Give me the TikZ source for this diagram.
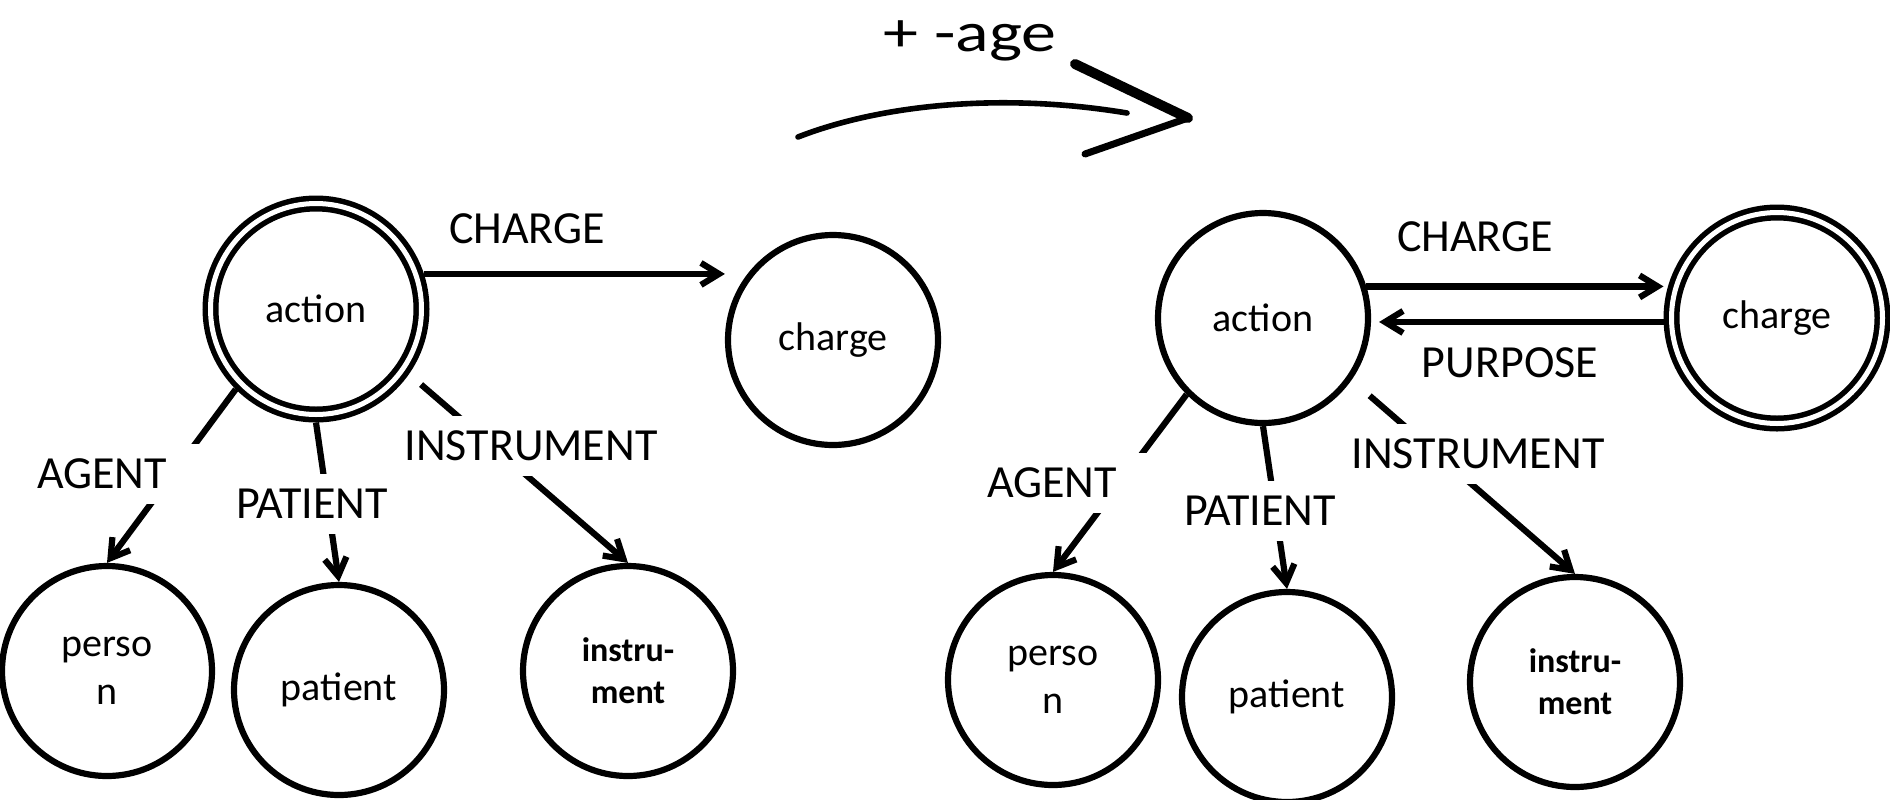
\documentclass[tikz,border=0pt]{standalone}
\usepackage{fontspec}
\setmainfont{Carlito}
\usepackage{graphicx}
\usetikzlibrary{arrows.meta}

\begin{document}
\begin{tikzpicture}[x=0.5pt, y=-0.5pt, line width=3.1pt,
        concept/.style={draw, circle, minimum size=105pt, inner sep=0pt, align=center, font=\fontsize{20}{24}\selectfont},
        focus/.style={concept, double, line width=2.75pt, double distance=2.5pt, outer sep=4pt, minimum size=105.5pt},
        tool/.style={font=\fontsize{17}{21}\selectfont\bfseries},
        role/.style={inner xsep=18pt, inner ysep=7.5pt, font=\fontsize{23}{28}\selectfont},
        cover/.style={role, fill=white},
        >={Straight Barb[length=9pt, width=11pt]} ]
        \useasboundingbox (0,0) rectangle (1890,799);
        \node[focus] (act1) at (316,309) {action};
        \node[concept] (chg1) at (833,340) {charge};
        \node[concept] (per1) at (107,671) {perso\\n};
        \node[concept] (pat1) at (339,690) {patient};
        \node[concept, tool] (ins1) at (628,671) {instru-\\ment};
        \node[concept] (act2) at (1263,318) {action};
        \node[focus] (chg2) at (1777,318) {charge};
        \node[concept] (per2) at (1053,680) {perso\\n};
        \node[concept] (pat2) at (1287,697) {patient};
        \node[concept, tool] (ins2) at (1575,682) {instru-\\ment};
        \draw[->] (act1.18) -- (act1.18 -| chg1.west);
        \draw[->] (act1.225) -- (per1.north);
        \draw[->] (act1.south) -- (pat1.north);
        \draw[->, shorten <=8pt] (act1.-35) -- (ins1.north);
        \draw[->] (act2.17) -- (act2.17 -| chg2.west);
        \draw[->, shorten >=4pt] (chg2.182) -- (chg2.182 -| act2.east);
        \draw[->] (act2.225) -- (per2.north);
        \draw[->] (act2.south) -- (pat2.north);
        \draw[->, shorten <=12pt] (act2.-35) -- (ins2.north);
        \node[role] (chgL1) at (527,229) {CHARGE};
        \node[cover] (agtL1) at (102,474) {AGENT};
        \node[cover] (patL1) at (312,504) {PATIENT};
        \node[cover] (insL1) at (531,446) {INSTRUMENT};
        \node[role] (chgL2) at (1475,237) {CHARGE};
        \node[role] (purL2) at (1510,363) {PURPOSE};
        \node[cover] (agtL2) at (1052,483) {AGENT};
        \node[cover] (patL2) at (1260,511) {PATIENT};
        \node[cover] (insL2) at (1478,454) {INSTRUMENT};
        \node[anchor=base, font=\fontsize{28}{32}\selectfont] (age) at (970,51) {\scalebox{1.25}[1]{+ -age}};
        \draw[line width=2.8pt, line cap=round] (798,137) .. controls (880,105) and (1000,92) .. (1127,113);
        \draw[line width=5pt, line cap=round] (1075,64) -- (1188,118);
        \draw[line width=3.5pt, line cap=round] (1188,118) -- (1085,154);
    \end{tikzpicture}
\end{document}
